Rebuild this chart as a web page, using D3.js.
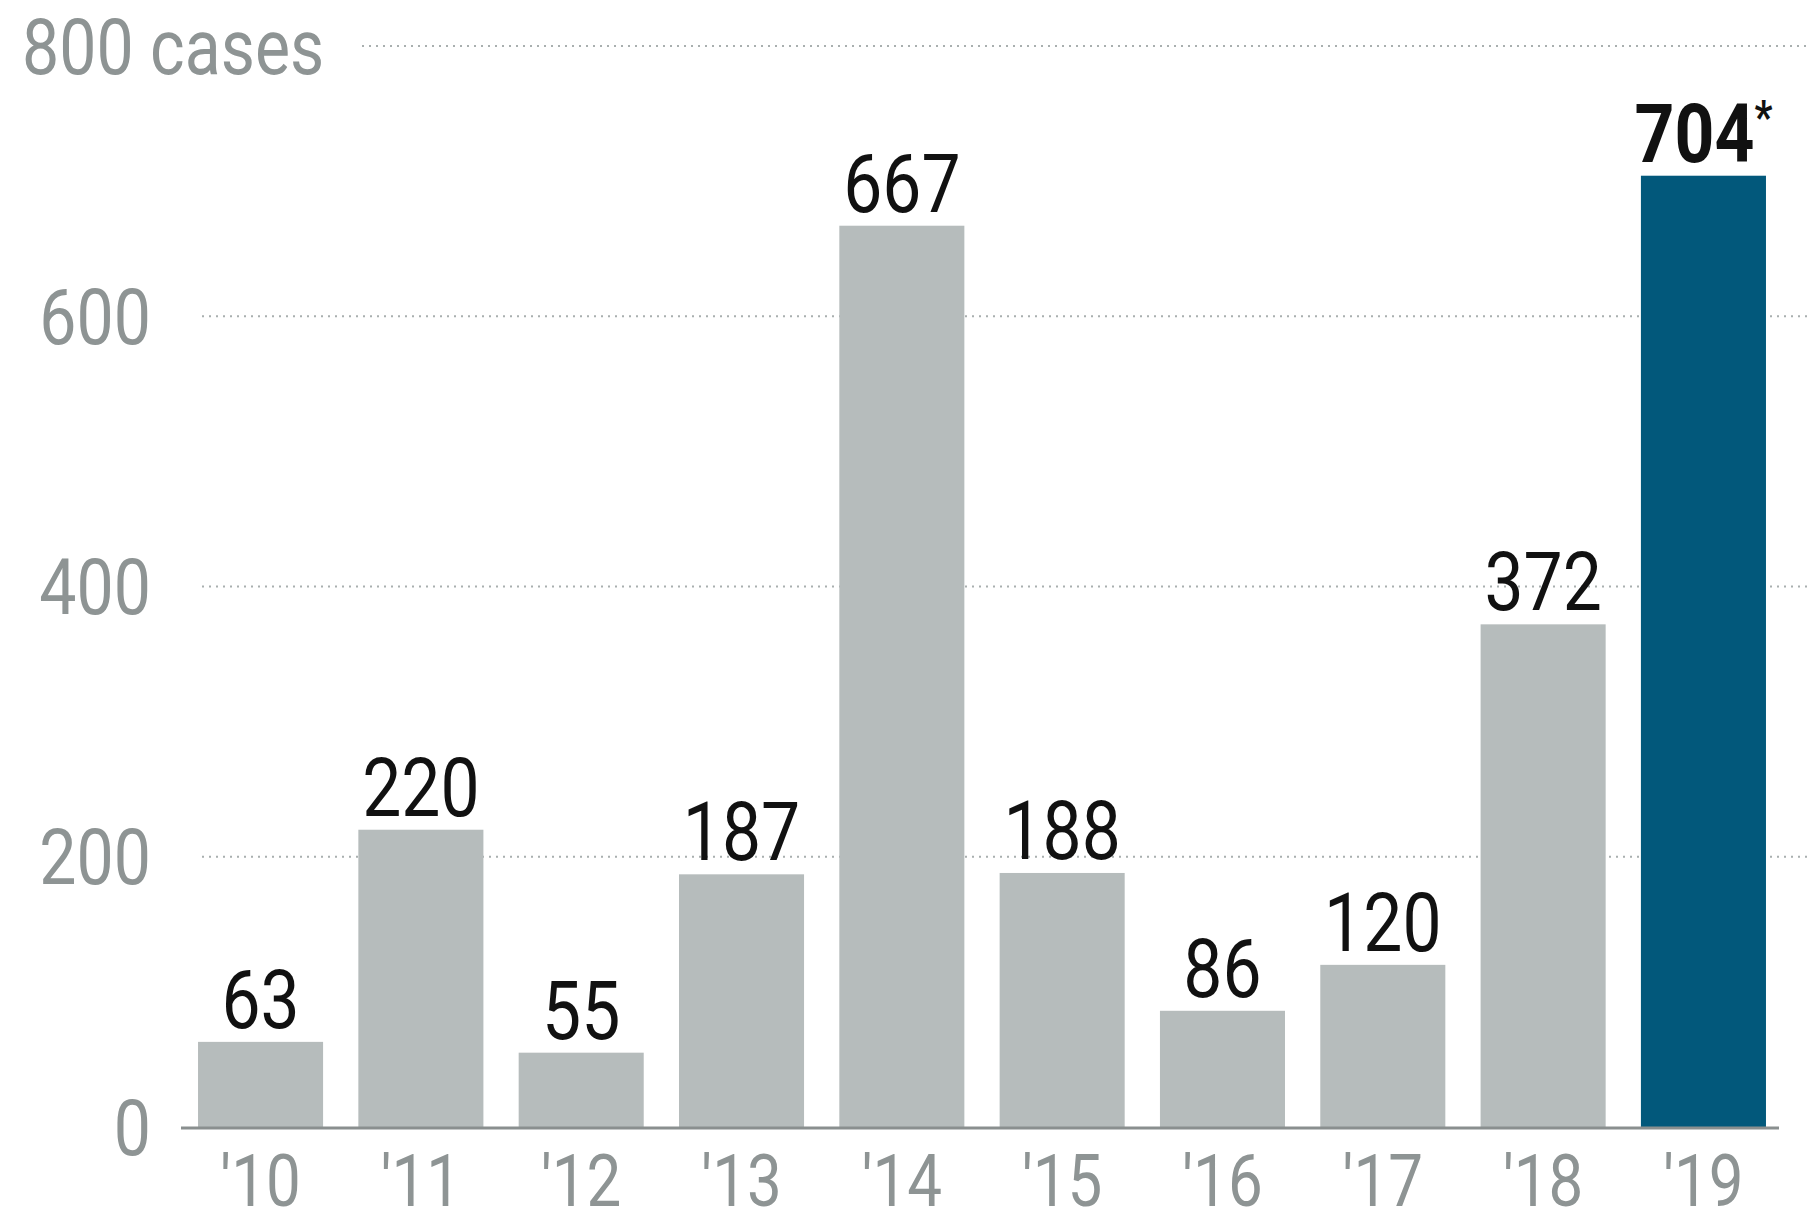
<!DOCTYPE html>
<html>
<head>
<meta charset="utf-8">
<script src="https://cdn.jsdelivr.net/npm/d3@7"></script>
<style>
  body { margin: 0; background: #fff; }
  text { font-family: "Roboto", "Liberation Sans", sans-serif; }
</style>
</head>
<body>
<div id="chart"></div>
<script>
const svgWidth = 1808;
const svgHeight = 1225;

// chart data
const years = ["'10", "'11", "'12", "'13", "'14", "'15", "'16", "'17", "'18", "'19"];
const cases = [63, 220, 55, 187, 667, 188, 86, 120, 372, 704];
const yTicks = [0, 200, 400, 600, 800];
const highlightYear = "'19";

// narrow the glyphs to look like a condensed face
const squeeze = 0.86;

var svg = d3.select("#chart")
  .append("svg")
  .attr("width", svgWidth)
  .attr("height", svgHeight);

// scales
var xBandScale = d3.scaleBand()
  .domain(years)
  .range([182, 1782])
  .paddingInner(0.22)
  .paddingOuter(0.1);

var yLinearScale = d3.scaleLinear()
  .domain([0, 800])
  .range([1127, 46]);

// dotted gridlines
svg.append("g")
  .selectAll("line")
  .data(yTicks.filter(d => d > 0))
  .enter()
  .append("line")
  .attr("x1", d => d === 800 ? 362 : 202)
  .attr("x2", svgWidth)
  .attr("y1", d => yLinearScale(d))
  .attr("y2", d => yLinearScale(d))
  .attr("stroke", "#a9afaf")
  .attr("stroke-width", 2.2)
  .attr("stroke-dasharray", "2,5");

// y tick labels
svg.append("g")
  .selectAll("text")
  .data(yTicks)
  .enter()
  .append("text")
  .attr("transform", d => `translate(${d === 800 ? 22 : 151}, ${yLinearScale(d)}) scale(${squeeze}, 1)`)
  .attr("dy", "0.36em")
  .attr("text-anchor", d => d === 800 ? "start" : "end")
  .attr("font-size", 77)
  .attr("fill", "#8e9494")
  .text(d => d === 800 ? d + " cases" : d);

// bars
svg.append("g")
  .selectAll("rect")
  .data(years)
  .enter()
  .append("rect")
  .attr("x", d => xBandScale(d))
  .attr("y", (d, i) => yLinearScale(cases[i]))
  .attr("width", xBandScale.bandwidth())
  .attr("height", (d, i) => yLinearScale(0) - yLinearScale(cases[i]))
  .attr("fill", d => d === highlightYear ? "#02587b" : "#b6bcbc");

// baseline
svg.append("line")
  .attr("x1", 181)
  .attr("x2", 1779)
  .attr("y1", yLinearScale(0) + 1)
  .attr("y2", yLinearScale(0) + 1)
  .attr("stroke", "#8a8f8f")
  .attr("stroke-width", 3);

// value labels
var valueLabels = svg.append("g")
  .selectAll("text")
  .data(years)
  .enter()
  .append("text")
  .attr("transform", (d, i) => `translate(${xBandScale(d) + xBandScale.bandwidth() / 2}, ${yLinearScale(cases[i]) - 14}) scale(${squeeze}, 1)`)
  .attr("text-anchor", "middle")
  .attr("font-size", 81)
  .attr("fill", "#111")
  .attr("font-weight", d => d === highlightYear ? "bold" : "normal");

valueLabels.append("tspan")
  .text((d, i) => cases[i]);

valueLabels.filter(d => d === highlightYear)
  .append("tspan")
  .attr("font-size", 46)
  .attr("dy", "-0.62em")
  .text("*");

// x axis labels
svg.append("g")
  .selectAll("text")
  .data(years)
  .enter()
  .append("text")
  .attr("transform", d => `translate(${xBandScale(d) + xBandScale.bandwidth() / 2}, 1206) scale(${squeeze}, 1)`)
  .attr("text-anchor", "middle")
  .attr("font-size", 72)
  .attr("fill", "#8e9494")
  .text(d => d);
</script>
</body>
</html>
